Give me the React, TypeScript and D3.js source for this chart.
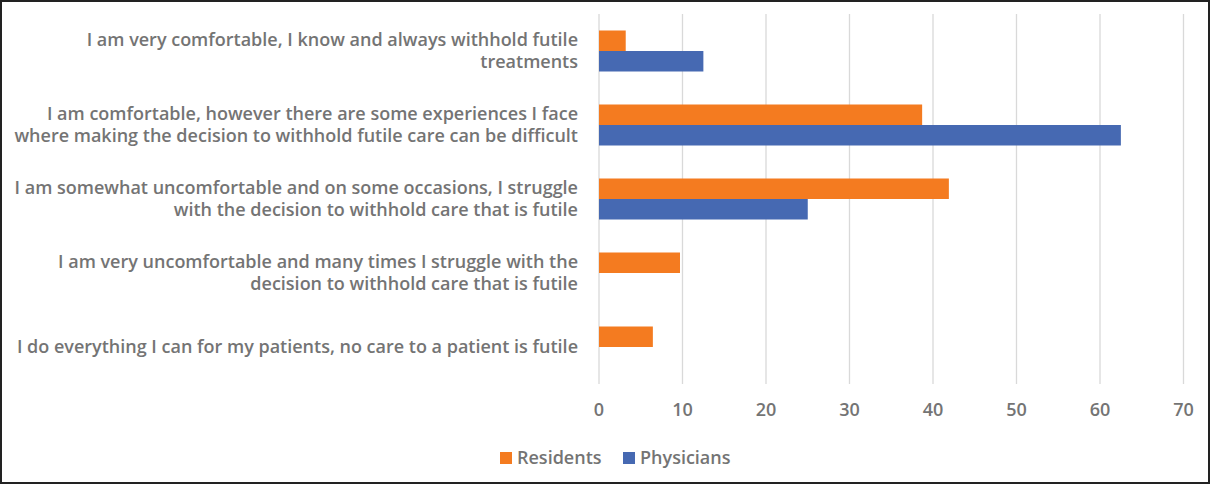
import React from "react";
import * as d3 from "d3";

const categories: string[][] = [
  ["I am very comfortable, I know and always withhold futile", "treatments"],
  ["I am comfortable, however there are some experiences I face", "where making the decision to withhold futile care can be difficult"],
  ["I am somewhat uncomfortable and on some occasions, I struggle", "with the decision to withhold care that is futile"],
  ["I am very uncomfortable and many times I struggle with the", "decision to withhold care that is futile"],
  ["I do everything I can for my patients, no care to a patient is futile"],
];
const residents = [3.2, 38.7, 41.9, 9.7, 6.45];
const physicians = [12.5, 62.5, 25, 0, 0];
const seriesNames = ["Residents", "Physicians"];
const xTicks = [0, 10, 20, 30, 40, 50, 60, 70];

const W = 1210;
const H = 484;
const COLORS = ["#F47B20", "#4669B2"];
const TEXT = "#747474";
const FONT = "'Open Sans', sans-serif";
const FS = 18;
const FW = 600;

export default function App() {
  const x = d3.scaleLinear().domain([0, 70]).range([599, 1183.5]);
  const idx = categories.map((_, i) => String(i));
  const y = d3.scaleBand().domain(idx).range([14, 384]).paddingInner(0).paddingOuter(0);
  const bw = y.bandwidth();
  const barH = 20.5;
  const series = [residents, physicians];

  return (
    <svg width={W} height={H} style={{ position: "absolute", left: 0, top: 0, background: "#fff" }}>
      <rect x={1} y={1} width={W - 2} height={H - 2} fill="#fff" stroke="#222" strokeWidth={2} />
      {xTicks.map((t) => (
        <line key={"g" + t} x1={x(t)} x2={x(t)} y1={14} y2={384} stroke="#d9d9d9" strokeWidth={1.3} />
      ))}
      {series.map((vals, s) =>
        vals.map((v, i) =>
          v > 0 ? (
            <rect
              key={s + "-" + i}
              x={x(0)}
              y={(y(String(i)) as number) + bw / 2 - barH + s * barH}
              width={x(v) - x(0)}
              height={barH}
              fill={COLORS[s]}
            />
          ) : null
        )
      )}
      {categories.map((lines, i) => {
        const cy = (y(String(i)) as number) + bw / 2;
        const lh = 22;
        const start = cy - ((lines.length - 1) * lh) / 2;
        return (
          <text key={"c" + i} textAnchor="end" fontFamily={FONT} fontSize={FS} fontWeight={FW} fill={TEXT}>
            {lines.map((ln, j) => (
              <tspan key={j} x={578} y={start + j * lh} dy="0.35em">
                {ln}
              </tspan>
            ))}
          </text>
        );
      })}
      {xTicks.map((t) => (
        <text key={"t" + t} x={x(t)} y={410} dy="0.35em" textAnchor="middle" fontFamily={FONT} fontSize={FS} fontWeight={FW} fill={TEXT}>
          {t}
        </text>
      ))}
      {seriesNames.map((n, s) => {
        const lx = [500, 623][s];
        return (
          <g key={n}>
            <rect x={lx} y={452} width={12} height={12} fill={COLORS[s]} />
            <text x={lx + 17} y={458} dy="0.35em" fontFamily={FONT} fontSize={FS} fontWeight={FW} fill={TEXT}>
              {n}
            </text>
          </g>
        );
      })}
    </svg>
  );
}
